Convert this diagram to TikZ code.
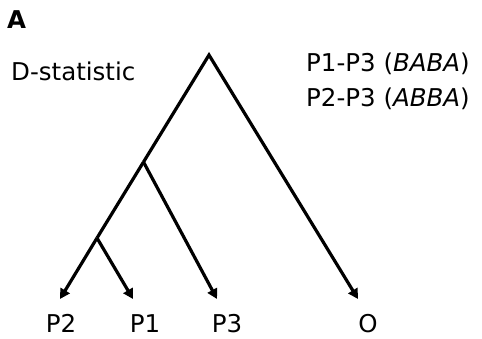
\documentclass[tikz,border=0pt]{standalone}
\usepackage{fontspec}
\setmainfont{DejaVu Sans}
\usetikzlibrary{arrows.meta}
\begin{document}
\begin{tikzpicture}[x=1pt,y=-1pt,
  lbl/.style={inner sep=0pt,font=\fontsize{24.5}{29}\selectfont},
  branch/.style={line width=3.2pt},
  leafarrow/.style={branch,-{Triangle[length=10pt,width=10.5pt]}}]
\useasboundingbox (0,0) rectangle (482,339);
\node[inner sep=0pt,anchor=base west,font=\fontsize{24.5}{27}\selectfont\bfseries] (panel) at (7,28.5) {A};
\node[lbl,anchor=base west] (dstat) at (11,80.5) {D-statistic};
\node[lbl,anchor=base west] (baba) at (306,72) {P1-P3 (\textit{BABA})};
\node[lbl,anchor=base west] (abba) at (306,107) {P2-P3 (\textit{ABBA})};
\coordinate (root) at (209,55);
\coordinate (n2) at (143.5,162);
\coordinate (n1) at (97,238);
\coordinate (tP2) at (60,299);
\coordinate (tP1) at (133,299);
\coordinate (tP3) at (217,299);
\coordinate (tO) at (358,299);
\node[lbl,anchor=base] (P2) at (61,332.5) {P2};
\node[lbl,anchor=base] (P1) at (145,332.5) {P1};
\node[lbl,anchor=base] (P3) at (227,332.5) {P3};
\node[lbl,anchor=base] (O) at (368,332.5) {O};
\draw[branch] (n1) -- (n2);
\draw[leafarrow,line join=miter] (n2) -- (root) -- (tO);
\draw[leafarrow] (n1) -- (tP2);
\draw[leafarrow] (n1) -- (tP1);
\draw[leafarrow] (n2) -- (tP3);
\end{tikzpicture}
\end{document}
